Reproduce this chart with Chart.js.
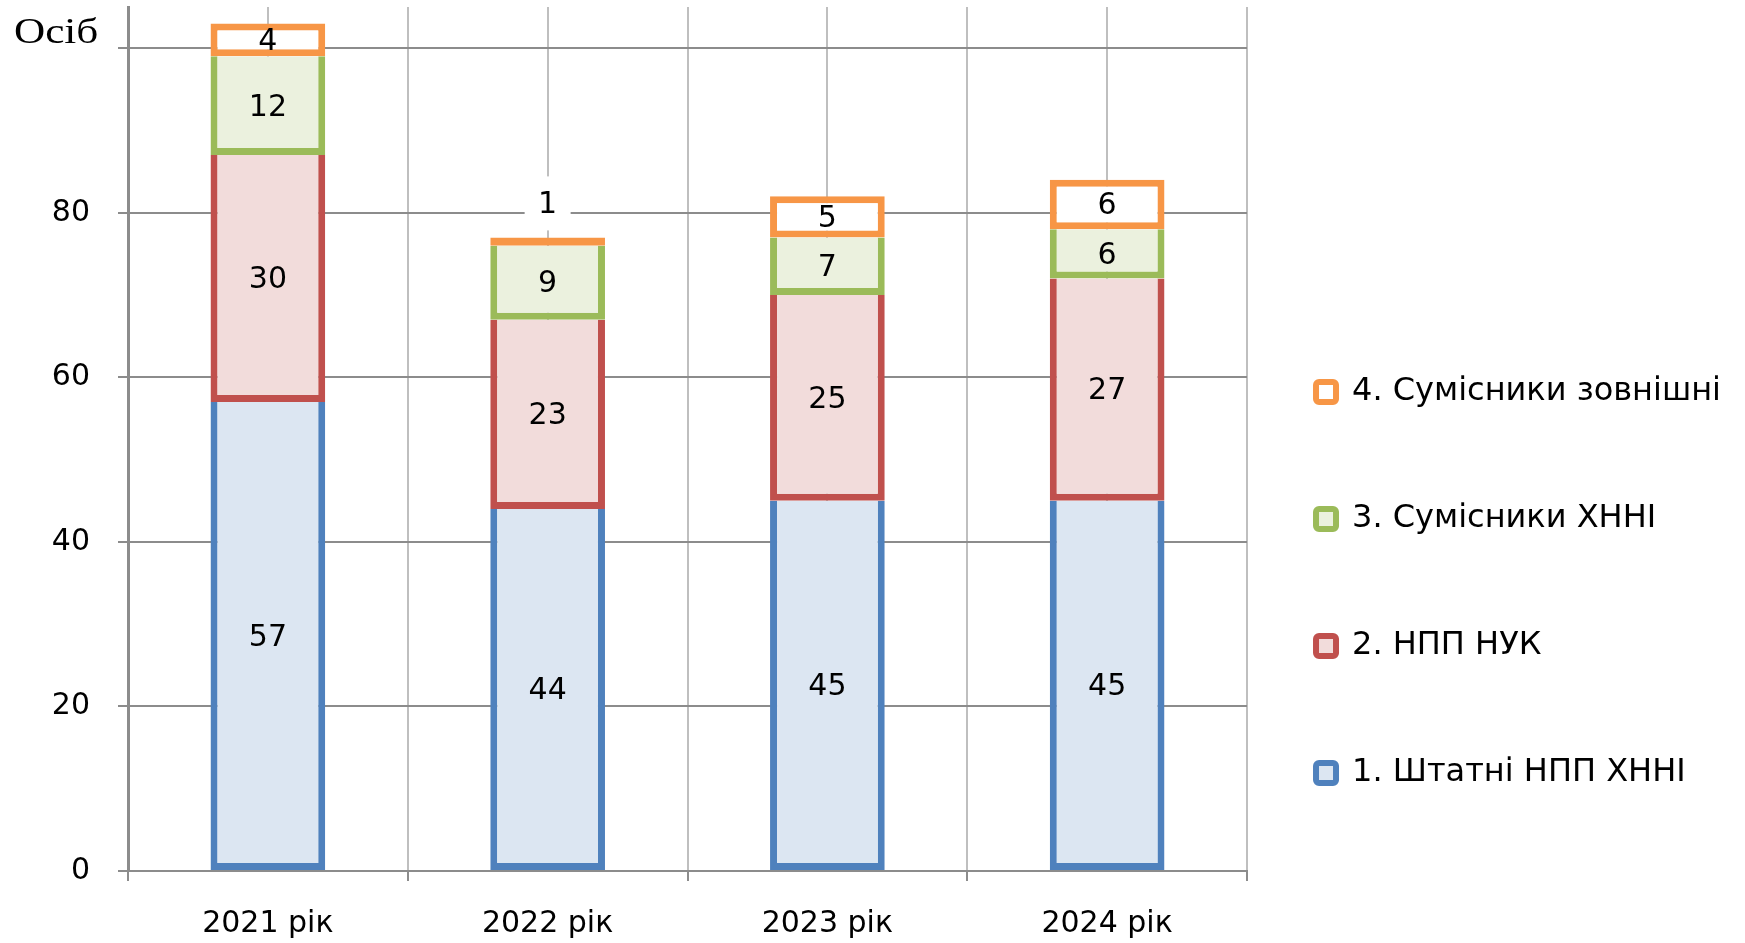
<!DOCTYPE html>
<html lang="uk">
<head>
<meta charset="utf-8">
<title>Склад НПП</title>
<style>
	html, body { margin: 0; padding: 0; background: #fff; }
	#wrap { width: 1745px; height: 943px; position: relative; }
</style>
</head>
<body>

<div id="wrap">
	<canvas id="staffChart"></canvas>
</div>

<script src="https://cdn.jsdelivr.net/npm/chart.js@4/dist/chart.umd.min.js"></script>

<script>
	const years = ["2021 рік", "2022 рік", "2023 рік", "2024 рік"]
	const staffHnni = [57, 44, 45, 45]
	const staffNuk = [30, 23, 25, 27]
	const partTimeHnni = [12, 9, 7, 6]
	const partTimeExternal = [4, 1, 5, 6]
	const yTicks = [0, 20, 40, 60, 80, 100]
	const unitLabel = "Осіб"

	Chart.defaults.font.family = "'DejaVu Sans', sans-serif"
	Chart.defaults.color = "#000"

	const barValueLabels = {
		id: "barValueLabels",
		afterDatasetsDraw(chart) {
			const ctx = chart.ctx
			ctx.save()
			ctx.font = "30px 'DejaVu Sans'"
			ctx.textAlign = "center"
			ctx.textBaseline = "middle"
			chart.data.datasets.forEach((ds, i) => {
				chart.getDatasetMeta(i).data.forEach((bar, j) => {
					const h = Math.abs(bar.base - bar.y)
					let y = (bar.y + bar.base) / 2
					if (h < 24) {
						// too thin for the number, put it over the bar on white
						y = Math.min(bar.y, bar.base) - 34
						ctx.fillStyle = "#fff"
						ctx.fillRect(bar.x - 23, y - 27, 46, 54)
					}
					ctx.fillStyle = "#000"
					ctx.fillText(ds.data[j], bar.x, y + 2)
				})
			})
			ctx.restore()
		}
	}

	const unitTitle = {
		id: "unitTitle",
		afterDraw(chart) {
			const ctx = chart.ctx
			ctx.save()
			ctx.font = "36px 'Liberation Serif'"
			ctx.fillStyle = "#000"
			ctx.textBaseline = "middle"
			ctx.translate(14, 34)
			ctx.scale(1.2, 1)
			ctx.fillText(unitLabel, 0, 0)
			ctx.restore()
		}
	}

	function series(label, data, border, fill, skip) {
		return {
			label: label,
			data: data,
			borderColor: border,
			backgroundColor: fill,
			borderWidth: 7,
			borderSkipped: skip,
			barPercentage: 0.41,
			categoryPercentage: 1
		}
	}

	function noScalePadding(scale) {
		scale.paddingTop = 0
		scale.paddingBottom = 0
		scale.paddingLeft = 0
		scale.paddingRight = 0
	}

	const ctx = document.getElementById("staffChart")
	const staffChart = new Chart(ctx, {
		type: "bar",
		data: {
			labels: years,
			datasets: [
				series("1. Штатні НПП ХННІ", staffHnni, "#4F81BD", "#DCE6F2", "top"),
				series("2. НПП НУК", staffNuk, "#C0504D", "#F2DCDB", "top"),
				series("3. Сумісники ХННІ", partTimeHnni, "#9BBB59", "#EBF1DE", "top"),
				series("4. Сумісники зовнішні", partTimeExternal, "#F79646", "#FFFFFF", false)
			]
		},
		options: {
			responsive: true,
			maintainAspectRatio: false,
			animation: false,
			layout: { padding: { top: 7, right: 14, bottom: 0, left: 0 } },
			plugins: {
				tooltip: { enabled: false },
				legend: {
					position: "right",
					align: "start",
					reverse: true,
					maxWidth: 484, // legend box ends up exactly this wide
					title: { display: true, text: "", font: { size: 10 }, padding: { top: 288, bottom: 0 } },
					labels: {
						font: { size: 32, lineHeight: 0.906 },
						color: "#000",
						boxWidth: 20,
						boxHeight: 20,
						padding: 69,
						useBorderRadius: true,
						generateLabels: function(chart) {
							return chart.data.datasets.map(function(ds, i) {
								return {
									text: [ds.label, ""], // empty second line = extra row gap
									fillStyle: ds.backgroundColor,
									strokeStyle: ds.borderColor,
									lineWidth: 6,
									borderRadius: 3,
									fontColor: "#000",
									hidden: !chart.isDatasetVisible(i),
									datasetIndex: i
								}
							})
						}
					}
				}
			},
			scales: {
				x: {
					stacked: true,
					offset: true,
					grid: { offset: true, color: "#BFBFBF", lineWidth: 2, tickLength: 10, tickColor: "#8C8C8C" },
					border: { color: "#8C8C8C", width: 2 },
					ticks: { padding: 25, font: { size: 30 }, color: "#000" },
					afterFit: function(scale) {
						noScalePadding(scale)
						scale.height = 72
					}
				},
				x2: {
					type: "category",
					labels: years,
					position: "top",
					offset: true,
					grid: { offset: false, color: "#BFBFBF", lineWidth: 2, drawTicks: false },
					border: { display: false },
					ticks: { display: false },
					afterFit: function(scale) {
						noScalePadding(scale)
						scale.height = 0
					}
				},
				y: {
					stacked: true,
					min: 0,
					max: 105,
					afterBuildTicks: function(scale) {
						scale.ticks = yTicks.map(v => ({ value: v }))
					},
					ticks: {
						padding: 28,
						font: { size: 30 },
						color: "#000",
						callback: v => v === 100 ? "" : v
					},
					grid: { color: "#8C8C8C", lineWidth: 2, tickLength: 10 },
					border: { color: "#8C8C8C", width: 3 },
					afterFit: function(scale) {
						noScalePadding(scale)
						scale.width = 128
					}
				}
			}
		},
		plugins: [barValueLabels, unitTitle]
	})
</script>
</body>
</html>
